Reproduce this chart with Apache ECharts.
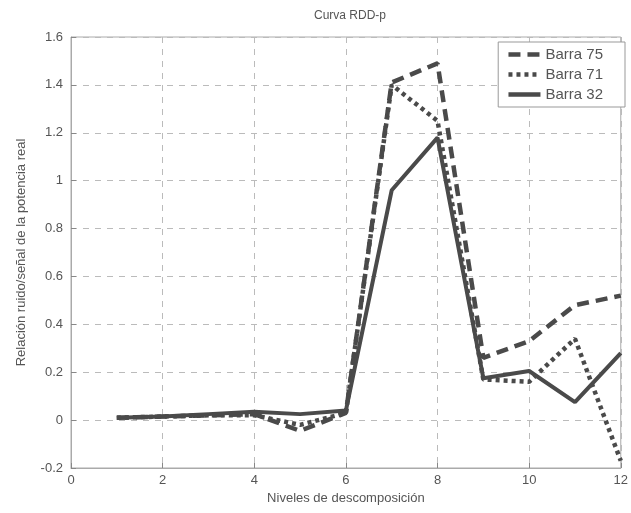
<!DOCTYPE html>
<html><head><meta charset="utf-8">
<script src="https://cdn.jsdelivr.net/npm/echarts@6/dist/echarts.min.js"></script>
<style>html,body{margin:0;padding:0;background:#fff}#c{width:631px;height:513px}</style>
</head><body><div id="c"></div>
<script>
var levels = [1,2,3,4,5,6,7,8,9,10,11,12];
var barra75 = [0.01,0.015,0.02,0.025,-0.045,0.03,1.41,1.49,0.26,0.33,0.48,0.52];
var barra71 = [0.01,0.015,0.02,0.02,-0.02,0.03,1.40,1.25,0.17,0.16,0.34,-0.17];
var barra32 = [0.01,0.015,0.025,0.035,0.025,0.04,0.96,1.18,0.175,0.205,0.075,0.28];
var names = ['Barra 75','Barra 71','Barra 32'];
function pts(v){return levels.map(function(x,i){return [x,v[i]];});}
var col = '#4a4a4a';
var txt = '#555';
var chart = echarts.init(document.getElementById('c'));
chart.setOption({
  animation:false,
  title:{text:'Curva RDD-p',left:345,top:5,textAlign:'center',textStyle:{fontSize:12,fontWeight:'normal',color:txt,fontFamily:'Liberation Sans'}},
  grid:{left:71,right:4,top:37,bottom:45,show:true,borderColor:'#aaa',borderWidth:1},
  legend:{right:6,top:42,orient:'vertical',itemWidth:32,itemHeight:14,itemGap:5,
    backgroundColor:'#fff',borderColor:'#999',borderWidth:1,padding:[5,22,5,8],
    itemStyle:{color:'transparent',borderWidth:0,opacity:0},
    lineStyle:{width:4.5},
    textStyle:{fontSize:15,color:txt,fontFamily:'Liberation Sans'},
    data:names},
  xAxis:{type:'value',min:0,max:12,interval:2,
    name:'Niveles de descomposición',nameLocation:'middle',nameGap:24,
    nameTextStyle:{fontSize:13,color:txt,fontFamily:'Liberation Sans'},
    axisLine:{onZero:false,lineStyle:{color:'#aaa'}},axisTick:{inside:true,length:5,lineStyle:{color:'#888'}},
    axisLabel:{fontSize:13,color:txt,margin:6,fontFamily:'Liberation Sans'},
    splitLine:{show:true,lineStyle:{color:'#bbb',type:[6,6]}}},
  yAxis:{type:'value',min:-0.2,max:1.6,interval:0.2,
    name:'Relación ruido/señal de la potencia real',nameLocation:'middle',nameGap:43,
    nameTextStyle:{fontSize:13,color:txt,fontFamily:'Liberation Sans'},
    axisLine:{show:true,onZero:false,lineStyle:{color:'#aaa'}},axisTick:{show:true,inside:true,length:5,lineStyle:{color:'#888'}},
    axisLabel:{fontSize:13,color:txt,margin:8,fontFamily:'Liberation Sans',formatter:function(v){return String(Math.round(v*10)/10);}},
    splitLine:{show:true,lineStyle:{color:'#bbb',type:[6,6]}}},
  series:[
    {name:names[0],type:'line',data:pts(barra75),symbol:'none',lineStyle:{color:col,width:4.5,type:[12,7]},itemStyle:{color:col}},
    {name:names[1],type:'line',data:pts(barra71),symbol:'none',lineStyle:{color:col,width:4.5,type:[4,4]},itemStyle:{color:col}},
    {name:names[2],type:'line',data:pts(barra32),symbol:'none',lineStyle:{color:col,width:4},itemStyle:{color:col}}
  ]
});
</script></body></html>
